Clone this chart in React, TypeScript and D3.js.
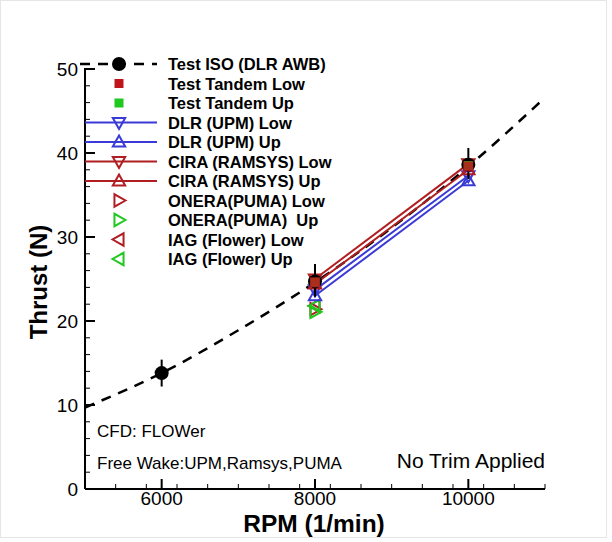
import React from "react";
import * as d3 from "d3";

const W = 612;
const H = 542;

// Test ISO (DLR AWB) measurements
const isoRpm = [6000, 8000, 10000];
const isoThrust = [13.8, 24.7, 38.6];
const isoErrLow = [12.2, 22.9, 36.9];
const isoErrHigh = [15.4, 26.8, 40.6];

// Dashed fit curve
const fitRpm = [5000, 6000, 7000, 8000, 9000, 10000, 11000];
const fitThrust = [9.7, 13.8, 18.9, 24.6, 31.1, 38.4, 46.6];

const cfdRpm = [8000, 10000];
const tandemLow = [24.6, 38.4];
const tandemUp = [24.6, 38.5];
const dlrLow = [23.7, 37.3];
const dlrUp = [23.0, 36.7];
const ciraLow = [25.0, 38.7];
const ciraUp = [24.4, 38.0];

const oneraRpm = [8000];
const oneraLow = [21.4];
const oneraUp = [21.1];
const iagLow = [21.8];
const iagUp = [21.8];

const xTicks = [6000, 8000, 10000];
const yTicks = [0, 10, 20, 30, 40, 50];

const legendLabels = [
  "Test ISO (DLR AWB)",
  "Test Tandem Low",
  "Test Tandem Up",
  "DLR (UPM) Low",
  "DLR (UPM) Up",
  "CIRA (RAMSYS) Low",
  "CIRA (RAMSYS) Up",
  "ONERA(PUMA) Low",
  "ONERA(PUMA)  Up",
  "IAG (Flower) Low",
  "IAG (Flower) Up",
];

const RED = "#c0141c";
const GREEN = "#1ec81e";
const BLUE = "#3a3ad6";
const DRED = "#b01e22";

const x = d3.scaleLinear().domain([5000, 11000]).range([85, 545]);
const y = d3.scaleLinear().domain([0, 50]).range([489, 69]);

type Dir = "up" | "down" | "left" | "right";
function tri(cx: number, cy: number, dir: Dir, s = 6.5) {
  let pts: [number, number][];
  if (dir === "up") pts = [[0, -s], [s * 0.95, s * 0.7], [-s * 0.95, s * 0.7]];
  else if (dir === "down") pts = [[0, s], [s * 0.95, -s * 0.7], [-s * 0.95, -s * 0.7]];
  else if (dir === "right") pts = [[s, 0], [-s * 0.7, s * 0.95], [-s * 0.7, -s * 0.95]];
  else pts = [[-s, 0], [s * 0.7, s * 0.95], [s * 0.7, -s * 0.95]];
  return "M" + pts.map((p) => `${cx + p[0]},${cy + p[1]}`).join("L") + "Z";
}

function Tri({ cx, cy, dir, color }: { cx: number; cy: number; dir: Dir; color: string }) {
  return <path d={tri(cx, cy, dir)} fill="none" stroke={color} strokeWidth={2} />;
}

export default function App() {
  const font = "'Liberation Sans', Arial, sans-serif";
  const line = d3
    .line<number>()
    .x((_, i) => x(fitRpm[i]))
    .y((d) => y(d))
    .curve(d3.curveMonotoneX);
  const seg = (vals: number[]) =>
    d3
      .line<number>()
      .x((_, i) => x(cfdRpm[i]))
      .y((d) => y(d))(vals) as string;

  const xMinor = d3.range(5000, 11001, 400);
  const yMinor = d3.range(0, 50.01, 2);

  const legX0 = 85;
  const legX1 = 157;
  const legSym = 119;
  const legText = 168;
  const legY = (i: number) => 64 + i * 19.5;

  return (
    <svg width={W} height={H} style={{ position: "absolute", left: 0, top: 0 }} fontFamily={font}>
      <rect x={0} y={0} width={W} height={H} fill="#fff" />
      <rect x={0.5} y={0.5} width={W - 6} height={H - 5} fill="none" stroke="#e6e6e6" />

      {/* axes */}
      <line x1={x(5000)} x2={x(11000)} y1={y(0)} y2={y(0)} stroke="#000" strokeWidth={2} />
      <line x1={x(5000)} x2={x(5000)} y1={y(0)} y2={y(50) - 1} stroke="#000" strokeWidth={2} />
      {xMinor.map((v) => (
        <line key={"xm" + v} x1={x(v)} x2={x(v)} y1={y(0)} y2={y(0) - 5} stroke="#000" strokeWidth={1} />
      ))}
      {xTicks.map((v) => (
        <g key={"xt" + v}>
          <line x1={x(v)} x2={x(v)} y1={y(0)} y2={y(0) - 10} stroke="#000" strokeWidth={2} />
          <text x={x(v)} y={505} textAnchor="middle" fontSize={19}>
            {v}
          </text>
        </g>
      ))}
      {yMinor.map((v) => (
        <line key={"ym" + v} x1={x(5000)} x2={x(5000) + 5} y1={y(v)} y2={y(v)} stroke="#000" strokeWidth={1} />
      ))}
      {yTicks.map((v) => (
        <g key={"yt" + v}>
          <line x1={x(5000)} x2={x(5000) + 10} y1={y(v)} y2={y(v)} stroke="#000" strokeWidth={2} />
          <text x={78} y={y(v) + 7} textAnchor="end" fontSize={19}>
            {v}
          </text>
        </g>
      ))}
      <text x={314} y={532} textAnchor="middle" fontSize={24.5} fontWeight="bold">
        RPM (1/min)
      </text>
      <text
        transform={`translate(47,282) rotate(-90)`}
        textAnchor="middle"
        fontSize={24}
        fontWeight="bold"
      >
        Thrust (N)
      </text>

      {/* fit curve */}
      <path d={line(fitThrust) as string} fill="none" stroke="#000" strokeWidth={2.5} strokeDasharray="10,8" />

      {/* CFD lines */}
      <path d={seg(dlrUp)} fill="none" stroke={BLUE} strokeWidth={2} />
      <path d={seg(dlrLow)} fill="none" stroke={BLUE} strokeWidth={2} />
      <path d={seg(ciraUp)} fill="none" stroke={DRED} strokeWidth={2} />
      <path d={seg(ciraLow)} fill="none" stroke={DRED} strokeWidth={2} />

      {/* free wake points */}
      {oneraRpm.map((r, i) => (
        <g key={"fw" + i}>
          <Tri cx={x(r)} cy={y(oneraLow[i])} dir="right" color={DRED} />
          <Tri cx={x(r)} cy={y(iagLow[i])} dir="left" color={DRED} />
          <Tri cx={x(r)} cy={y(iagUp[i])} dir="left" color={GREEN} />
          <Tri cx={x(r)} cy={y(oneraUp[i])} dir="right" color={GREEN} />
        </g>
      ))}

      {cfdRpm.map((r, i) => (
        <g key={"cfd" + i}>
          <Tri cx={x(r)} cy={y(dlrUp[i])} dir="up" color={BLUE} />
          <Tri cx={x(r)} cy={y(dlrLow[i])} dir="down" color={BLUE} />
          <Tri cx={x(r)} cy={y(ciraUp[i])} dir="up" color={DRED} />
          <Tri cx={x(r)} cy={y(ciraLow[i])} dir="down" color={DRED} />
        </g>
      ))}

      {/* Test ISO */}
      {isoRpm.map((r, i) => (
        <g key={"iso" + i}>
          <line x1={x(r)} x2={x(r)} y1={y(isoErrLow[i])} y2={y(isoErrHigh[i])} stroke="#000" strokeWidth={2} />
          <circle cx={x(r)} cy={y(isoThrust[i])} r={7} fill="#000" />
        </g>
      ))}

      {/* tandem squares */}
      {cfdRpm.map((r, i) => (
        <g key={"tan" + i}>
          <rect x={x(r) - 4.5} y={y(tandemUp[i]) - 4.5} width={9} height={9} fill={GREEN} />
          <rect x={x(r) - 5} y={y(tandemLow[i]) - 5} width={10} height={10} fill={RED} opacity={0.85} />
        </g>
      ))}

      {/* legend */}
      <g>
        <line x1={legX0 - 5} x2={legX1} y1={legY(0)} y2={legY(0)} stroke="#000" strokeWidth={2.5} strokeDasharray="10,8" />
        <circle cx={legSym} cy={legY(0)} r={7} fill="#000" />
        <rect x={legSym - 4.5} y={legY(1) - 4.5} width={9} height={9} fill={RED} />
        <rect x={legSym - 4.5} y={legY(2) - 4.5} width={9} height={9} fill={GREEN} />
        <line x1={legX0} x2={legX1} y1={legY(3)} y2={legY(3)} stroke={BLUE} strokeWidth={2} />
        <Tri cx={legSym} cy={legY(3)} dir="down" color={BLUE} />
        <line x1={legX0} x2={legX1} y1={legY(4)} y2={legY(4)} stroke={BLUE} strokeWidth={2} />
        <Tri cx={legSym} cy={legY(4)} dir="up" color={BLUE} />
        <line x1={legX0} x2={legX1} y1={legY(5)} y2={legY(5)} stroke={DRED} strokeWidth={2} />
        <Tri cx={legSym} cy={legY(5)} dir="down" color={DRED} />
        <line x1={legX0} x2={legX1} y1={legY(6)} y2={legY(6)} stroke={DRED} strokeWidth={2} />
        <Tri cx={legSym} cy={legY(6)} dir="up" color={DRED} />
        <Tri cx={legSym} cy={legY(7)} dir="right" color={DRED} />
        <Tri cx={legSym} cy={legY(8)} dir="right" color={GREEN} />
        <Tri cx={legSym} cy={legY(9)} dir="left" color={DRED} />
        <Tri cx={legSym} cy={legY(10)} dir="left" color={GREEN} />
        {legendLabels.map((l, i) => (
          <text key={l} x={legText} y={legY(i) + 6} fontSize={16.5} fontWeight="bold" style={{ whiteSpace: "pre" }}>
            {l}
          </text>
        ))}
      </g>

      {/* annotations */}
      <text x={97} y={437} fontSize={17}>
        CFD: FLOWer
      </text>
      <text x={97} y={469} fontSize={17}>
        Free Wake:UPM,Ramsys,PUMA
      </text>
      <text x={545} y={468} fontSize={21} textAnchor="end">
        No Trim Applied
      </text>
    </svg>
  );
}
